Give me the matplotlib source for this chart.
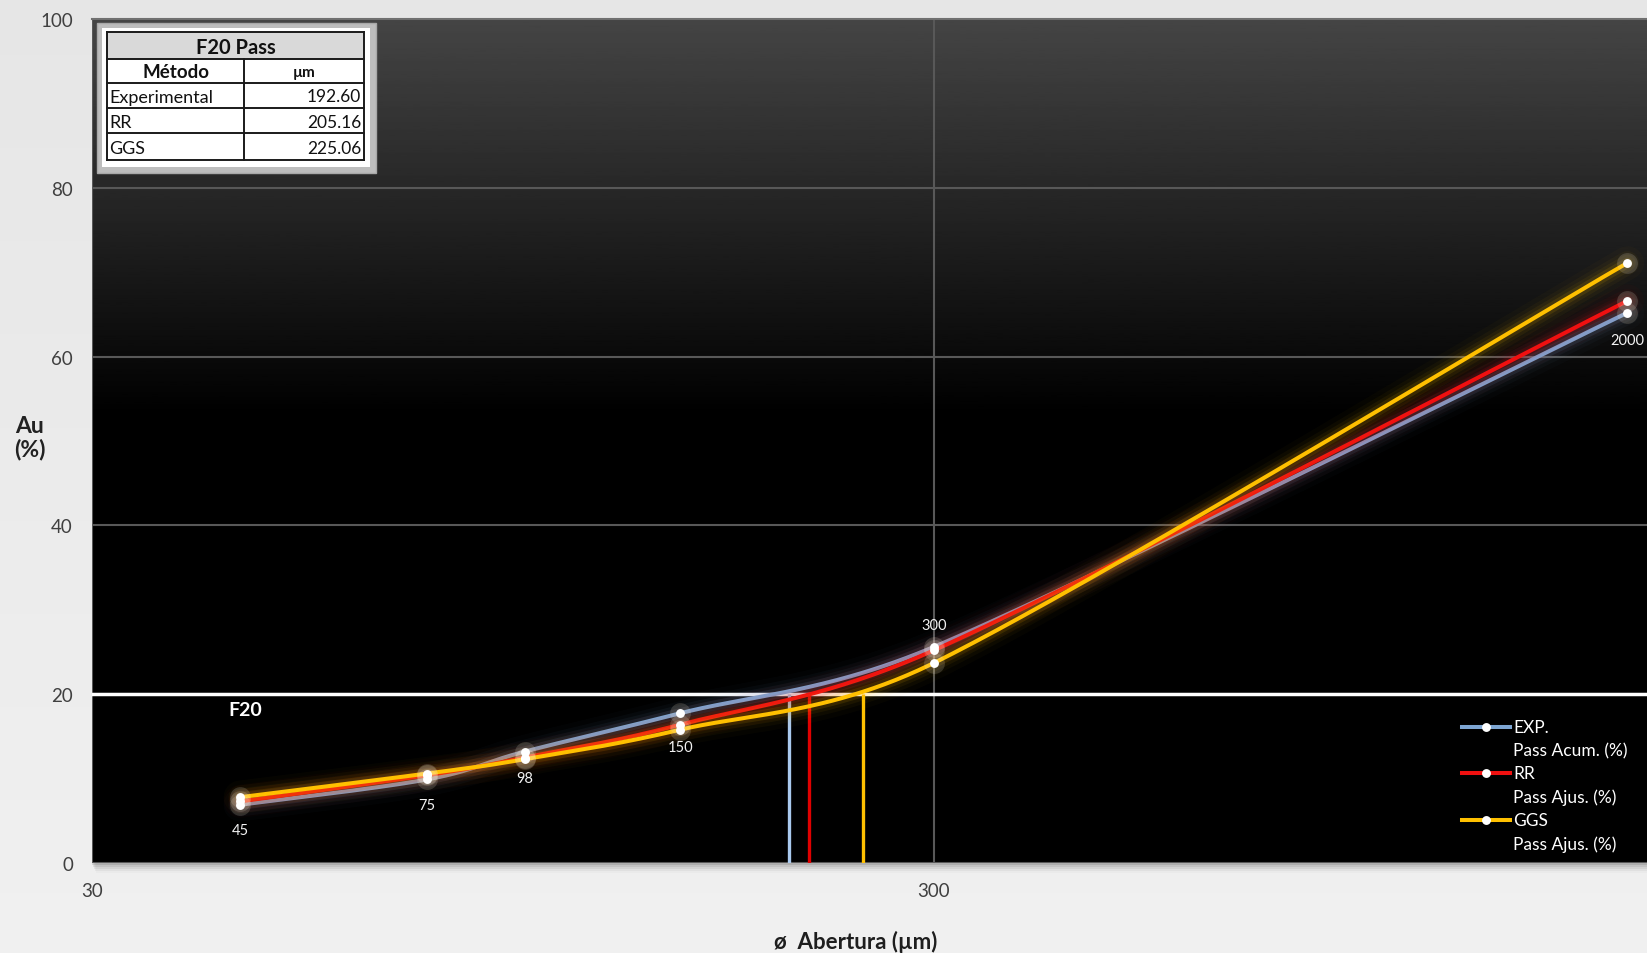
import numpy as np
import matplotlib
matplotlib.use("Agg")
import matplotlib.pyplot as plt
from matplotlib.patches import Rectangle
from matplotlib.lines import Line2D

plt.rcParams['font.family'] = ['Lato', 'DejaVu Sans']

# ---- data -------------------------------------------------------------
sizes_um = [45, 75, 98, 150, 300, 2000]
exp_pass = [6.9, 9.9, 13.2, 17.75, 25.6, 65.2]
rr_pass = [7.3, 10.4, 12.5, 16.4, 25.2, 66.6]
ggs_pass = [7.8, 10.6, 12.3, 15.8, 23.7, 71.1]

f20_level = 20
f20_drop_um = [201.6, 213.4, 247.0]   # where each curve meets the F20 line

table_methods = ["Experimental", "RR", "GGS"]
table_f20 = ["192.60", "205.16", "225.06"]

point_labels = ["45", "75", "98", "150", "300", "2000"]
legend_labels = [("EXP.", "Pass Acum. (%)"), ("RR", "Pass Ajus. (%)"), ("GGS", "Pass Ajus. (%)")]

y_ticks = [0, 20, 40, 60, 80, 100]
x_ticks = [30, 300]

# ---- styles -----------------------------------------------------------
c_exp = "#7ea6d3"
c_rr = "#f01010"
c_ggs = "#ffc000"
c_drop = ["#a9c9ee", "#e00000", "#ffc000"]
label_dy = [-25, -26, -26, -34, 22, -27]   # px offset of point labels
PX = 0.72                                   # points per pixel at 100 dpi


def smooth_curve(ax, xs, ys, n=80):
    """Bezier smoothing through the points, built in display space."""
    pts = ax.transData.transform(np.column_stack([xs, ys]))
    d = np.hypot(*np.diff(pts, axis=0).T)
    out = []
    for i in range(len(pts) - 1):
        p0 = pts[i - 1] if i > 0 else pts[i]
        p1, p2 = pts[i], pts[i + 1]
        p3 = pts[i + 2] if i + 2 < len(pts) else pts[i + 1]
        f1 = 1 / 6 * (min(1.0, 2 * d[i] / d[i - 1]) if i > 0 else 1.0)
        f2 = 1 / 6 * (min(1.0, 2 * d[i] / d[i + 1]) if i + 1 < len(d) else 1.0)
        c1 = p1 + (p2 - p0) * f1
        c2 = p2 - (p3 - p1) * f2
        t = np.linspace(0, 1, n)[:, None]
        seg = ((1 - t) ** 3) * p1 + 3 * ((1 - t) ** 2) * t * c1 + 3 * (1 - t) * t ** 2 * c2 + t ** 3 * p2
        out.append(seg if i == 0 else seg[1:])
    cur = ax.transData.inverted().transform(np.vstack(out))
    return cur[:, 0], cur[:, 1]


W, H = 1647, 954
fig = plt.figure(figsize=(W / 100, H / 100), dpi=100)
fig.patch.set_facecolor("#e7e7e7")

# page backdrop (soft light gradient) and plot-area shadow
bg = fig.add_axes([0, 0, 1, 1], zorder=-10)
bg.set_xlim(0, W)
bg.set_ylim(H, 0)
bg.axis("off")
gy = np.linspace(0, 1, 256)[:, None]
bg.imshow(0.90 + 0.04 * gy, cmap="gray", vmin=0, vmax=1, extent=[0, W, H, 0], aspect="auto")
for k, a in enumerate([0.10, 0.08, 0.06, 0.04, 0.02]):
    bg.add_patch(Rectangle((92 + k, 20), W, 844 + 2 + k * 2, facecolor="black", alpha=a, lw=0))

ax_left, ax_right, ax_top, ax_bot = 92, W, 20, 864
ax = fig.add_axes([ax_left / W, (H - ax_bot) / H, (ax_right - ax_left) / W, (ax_bot - ax_top) / H])
ax.set_xscale("log")
ax.set_xlim(30, 2110)
ax.set_ylim(0, 100)

# dark gradient plot area
grad = np.clip(1 - np.linspace(0, 1, 512) / 0.47, 0, 1)[:, None]
ax.imshow(grad * 0.27, cmap="gray", vmin=0, vmax=1, extent=[0, 1, 0, 1],
          transform=ax.transAxes, aspect="auto", zorder=0)

ax.set_yticks(y_ticks)
ax.set_xticks(x_ticks)
ax.set_xticklabels([str(v) for v in x_ticks])
ax.xaxis.set_minor_locator(matplotlib.ticker.NullLocator())
ax.tick_params(axis="both", length=0, labelsize=13.5, colors="#404040")
ax.tick_params(axis="y", pad=19 * PX)
ax.tick_params(axis="x", pad=19 * PX)
ax.grid(True, color="#585858", lw=1.5, zorder=1)
ax.set_axisbelow(True)
for s in ["left", "right", "bottom"]:
    ax.spines[s].set_visible(False)
ax.spines["top"].set_color("#707070")
ax.spines["top"].set_linewidth(1.5)

# F20 reference line and drops
ax.axhline(f20_level, color="white", lw=2.5, zorder=3)
for xv, col in zip(f20_drop_um, c_drop):
    ax.plot([xv, xv], [0, f20_level], color=col, lw=2.4, zorder=3, solid_capstyle="butt")

# curves with soft glow
series = [(exp_pass, c_exp), (rr_pass, c_rr), (ggs_pass, c_ggs)]
for k, (vals, col) in enumerate(series):
    sx, sy = smooth_curve(ax, sizes_um, vals)
    for lw, a in [(24, 0.025), (17, 0.04), (12, 0.06), (7.5, 0.11)]:
        ax.plot(sx, sy, color=col, lw=lw, alpha=a, zorder=4 + k, solid_capstyle="round")
    ax.plot(sx, sy, color=col, lw=2.9, zorder=4.5 + k, solid_capstyle="round")
for k, (vals, col) in enumerate(series):
    ax.plot(sizes_um, vals, "o", ms=15, color="#fff2d8", alpha=0.16, mec="none", zorder=8)
    ax.plot(sizes_um, vals, "o", ms=6.4, color="white", mec="none", zorder=9)

# point labels
for xv, yv, txt, dy in zip(sizes_um, exp_pass, point_labels, label_dy):
    ax.annotate(txt, (xv, yv), xytext=(0, dy * PX), textcoords="offset points",
                ha="center", va="center", color="#f2f2f2", fontsize=10.5, zorder=10)

ax.text(45.6, f20_level - 1.8, "F20", color="white", fontsize=14, fontweight="bold",
        ha="center", va="center", zorder=10)

# legend drawn at the lower right
fx = lambda px: (px - ax_left) / (ax_right - ax_left)
fy = lambda py: (ax_bot - py) / (ax_bot - ax_top)
for (l1, l2), col, py in zip(legend_labels, [c_exp, c_rr, c_ggs], [728, 774, 821]):
    ax.add_line(Line2D([fx(1462), fx(1510)], [fy(py), fy(py)], transform=ax.transAxes,
                       color=col, lw=2.9, zorder=10))
    ax.add_line(Line2D([fx(1486)], [fy(py)], transform=ax.transAxes, marker="o", ms=6.4,
                       color="white", mec="none", zorder=11))
    ax.text(fx(1513), fy(py), l1, transform=ax.transAxes, color="white", fontsize=12.5,
            va="center", ha="left", zorder=11)
    ax.text(fx(1513), fy(py + 23.5), l2, transform=ax.transAxes, color="white", fontsize=12.5,
            va="center", ha="left", zorder=11)

# axis titles
fig.text(29.5 / W, 1 - 438 / H, "Au\n(%)", ha="center", va="center", fontsize=16.5,
         fontweight="bold", color="#222222", linespacing=1.1)
fig.text(856 / W, 1 - 942 / H, "ø  Abertura (µm)", ha="center", va="center", fontsize=16,
         fontweight="bold", color="#1e1e1e")

# F20 summary table (figure pixel space)
ov = fig.add_axes([0, 0, 1, 1], zorder=20)
ov.set_xlim(0, W)
ov.set_ylim(H, 0)
ov.axis("off")
ov.add_patch(Rectangle((97, 24), 279, 150, facecolor="#bdbdbd", edgecolor="#a8a8a8", lw=1))
ov.add_patch(Rectangle((102, 29), 268, 139, facecolor="white", lw=0))
tx0, tx1, tcol = 107, 364, 244
rows = [33, 60, 84, 109, 134, 161]
ov.add_patch(Rectangle((tx0, rows[0]), tx1 - tx0, rows[1] - rows[0], facecolor="#d9d9d9", lw=0))
for r in rows:
    ov.plot([tx0, tx1], [r, r], color="#1a1a1a", lw=1.4)
ov.plot([tx0, tx0], [rows[0], rows[-1]], color="#1a1a1a", lw=1.4)
ov.plot([tx1, tx1], [rows[0], rows[-1]], color="#1a1a1a", lw=1.4)
ov.plot([tcol, tcol], [rows[1], rows[-1]], color="#1a1a1a", lw=1.4)
ov.text((tx0 + tx1) / 2, (rows[0] + rows[1]) / 2 + 1, "F20 Pass", ha="center", va="center",
        fontsize=14.5, fontweight="bold", color="#111111")
ov.text((tx0 + tcol) / 2, (rows[1] + rows[2]) / 2 + 1, "Método", ha="center", va="center",
        fontsize=13.5, fontweight="bold", color="#111111")
ov.text((tcol + tx1) / 2, (rows[1] + rows[2]) / 2 + 1, "µm", ha="center", va="center",
        fontsize=11, fontweight="bold", color="#111111")
for i, (m, v) in enumerate(zip(table_methods, table_f20)):
    yc = (rows[2 + i] + rows[3 + i]) / 2 + 1
    ov.text(tx0 + 2, yc, m, ha="left", va="center", fontsize=13, color="#111111")
    ov.text(tx1 - 3, yc, v, ha="right", va="center", fontsize=12.5, color="#111111")

fig.savefig("out.png", dpi=100, facecolor=fig.get_facecolor())
